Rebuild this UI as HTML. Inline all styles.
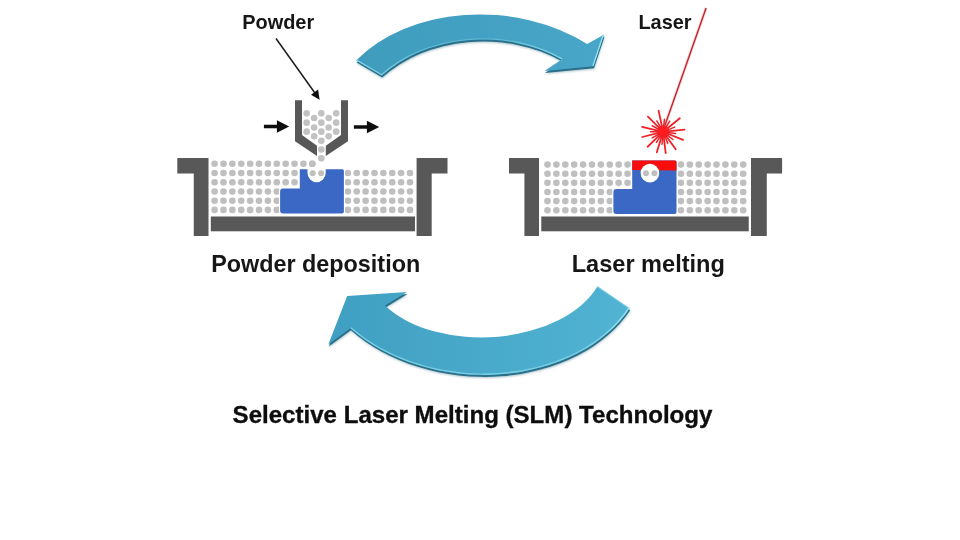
<!DOCTYPE html>
<html lang="en"><head><meta charset="utf-8"><title>Selective Laser Melting (SLM) Technology</title>
<style>
html,body{margin:0;padding:0;background:#fff;}
body{width:960px;height:540px;overflow:hidden;position:relative;font-family:"Liberation Sans",Arial,sans-serif;}
svg{position:absolute;left:0;top:0;display:block;}
text{font-family:"Liberation Sans",Arial,sans-serif;font-weight:700;fill:#111;}
.lbl text{fill:#161616;}
.g{fill:#585858;}
.d{fill:#bfbfbf;}
.b{fill:#3b67c4;}
</style></head><body>
<svg width="960" height="540" viewBox="0 0 960 540">
<defs>
<linearGradient id="ga" gradientUnits="userSpaceOnUse" x1="357" y1="0" x2="604" y2="0"><stop offset="0" stop-color="#3f9cbd"/><stop offset="1" stop-color="#48a6c9"/></linearGradient>
<linearGradient id="gb" gradientUnits="userSpaceOnUse" x1="328" y1="0" x2="630" y2="0"><stop offset="0" stop-color="#409fc2"/><stop offset="1" stop-color="#52b3d3"/></linearGradient>
<linearGradient id="hla" gradientUnits="userSpaceOnUse" x1="356" y1="0" x2="562" y2="0"><stop offset="0" stop-color="#8fe3f0" stop-opacity="0.95"/><stop offset="0.3" stop-color="#8fe3f0" stop-opacity="0.4"/><stop offset="0.65" stop-color="#8fe3f0" stop-opacity="0.3"/><stop offset="1" stop-color="#8fe3f0" stop-opacity="0.8"/></linearGradient>
<linearGradient id="hlb" gradientUnits="userSpaceOnUse" x1="630" y1="0" x2="483" y2="0"><stop offset="0" stop-color="#9beaf5" stop-opacity="0.9"/><stop offset="0.35" stop-color="#9beaf5" stop-opacity="0.5"/><stop offset="1" stop-color="#8fe3f0" stop-opacity="0.7"/></linearGradient>
<filter id="soft" x="-5%" y="-5%" width="110%" height="110%"><feGaussianBlur stdDeviation="0.6"/></filter>
<filter id="softd" x="-5%" y="-5%" width="110%" height="110%"><feGaussianBlur stdDeviation="0.65"/></filter>
<filter id="soft2" x="-5%" y="-10%" width="110%" height="120%"><feGaussianBlur stdDeviation="0.5"/></filter>
<filter id="soft3" x="-2%" y="-20%" width="104%" height="140%"><feGaussianBlur stdDeviation="0.4"/></filter>
<filter id="sh" x="-10%" y="-20%" width="120%" height="150%"><feGaussianBlur stdDeviation="1.1"/></filter>

<clipPath id="ca"><path d="M356.1 60.6 A159.9 117.6 4.27 0 1 587.2 43.9 L604.1 34.4 L593.5 66.2 L544.4 70.9 L561.7 59.4 A133.7 103.8 0.6 0 0 381.7 75.6 Z"/></clipPath>
<clipPath id="cb"><path d="M328.3 344.4 L347.2 296.1 L407 292 L385 305.6 A119.5 74.3 -2.24 0 0 597.5 286.2 L629.7 308.3 A169.1 125.5 3.4 0 1 350.4 328.3 Z"/></clipPath>
</defs>
<rect width="960" height="540" fill="#fff"/>
<g class="d" filter="url(#softd)">
<circle cx="214.6" cy="163.8" r="3.3"/>
<circle cx="214.6" cy="173.02" r="3.3"/>
<circle cx="214.6" cy="182.24" r="3.3"/>
<circle cx="214.6" cy="191.46" r="3.3"/>
<circle cx="214.6" cy="200.68" r="3.3"/>
<circle cx="214.6" cy="209.9" r="3.3"/>
<circle cx="223.48" cy="163.8" r="3.3"/>
<circle cx="223.48" cy="173.02" r="3.3"/>
<circle cx="223.48" cy="182.24" r="3.3"/>
<circle cx="223.48" cy="191.46" r="3.3"/>
<circle cx="223.48" cy="200.68" r="3.3"/>
<circle cx="223.48" cy="209.9" r="3.3"/>
<circle cx="232.36" cy="163.8" r="3.3"/>
<circle cx="232.36" cy="173.02" r="3.3"/>
<circle cx="232.36" cy="182.24" r="3.3"/>
<circle cx="232.36" cy="191.46" r="3.3"/>
<circle cx="232.36" cy="200.68" r="3.3"/>
<circle cx="232.36" cy="209.9" r="3.3"/>
<circle cx="241.25" cy="163.8" r="3.3"/>
<circle cx="241.25" cy="173.02" r="3.3"/>
<circle cx="241.25" cy="182.24" r="3.3"/>
<circle cx="241.25" cy="191.46" r="3.3"/>
<circle cx="241.25" cy="200.68" r="3.3"/>
<circle cx="241.25" cy="209.9" r="3.3"/>
<circle cx="250.13" cy="163.8" r="3.3"/>
<circle cx="250.13" cy="173.02" r="3.3"/>
<circle cx="250.13" cy="182.24" r="3.3"/>
<circle cx="250.13" cy="191.46" r="3.3"/>
<circle cx="250.13" cy="200.68" r="3.3"/>
<circle cx="250.13" cy="209.9" r="3.3"/>
<circle cx="259.01" cy="163.8" r="3.3"/>
<circle cx="259.01" cy="173.02" r="3.3"/>
<circle cx="259.01" cy="182.24" r="3.3"/>
<circle cx="259.01" cy="191.46" r="3.3"/>
<circle cx="259.01" cy="200.68" r="3.3"/>
<circle cx="259.01" cy="209.9" r="3.3"/>
<circle cx="267.89" cy="163.8" r="3.3"/>
<circle cx="267.89" cy="173.02" r="3.3"/>
<circle cx="267.89" cy="182.24" r="3.3"/>
<circle cx="267.89" cy="191.46" r="3.3"/>
<circle cx="267.89" cy="200.68" r="3.3"/>
<circle cx="267.89" cy="209.9" r="3.3"/>
<circle cx="276.77" cy="163.8" r="3.3"/>
<circle cx="276.77" cy="173.02" r="3.3"/>
<circle cx="276.77" cy="182.24" r="3.3"/>
<circle cx="276.77" cy="191.46" r="3.3"/>
<circle cx="276.77" cy="200.68" r="3.3"/>
<circle cx="276.77" cy="209.9" r="3.3"/>
<circle cx="285.66" cy="163.8" r="3.3"/>
<circle cx="285.66" cy="173.02" r="3.3"/>
<circle cx="285.66" cy="182.24" r="3.3"/>
<circle cx="285.66" cy="191.46" r="3.3"/>
<circle cx="285.66" cy="200.68" r="3.3"/>
<circle cx="285.66" cy="209.9" r="3.3"/>
<circle cx="294.54" cy="163.8" r="3.3"/>
<circle cx="294.54" cy="173.02" r="3.3"/>
<circle cx="294.54" cy="182.24" r="3.3"/>
<circle cx="294.54" cy="191.46" r="3.3"/>
<circle cx="294.54" cy="200.68" r="3.3"/>
<circle cx="294.54" cy="209.9" r="3.3"/>
<circle cx="303.42" cy="163.8" r="3.3"/>
<circle cx="303.42" cy="173.02" r="3.3"/>
<circle cx="303.42" cy="182.24" r="3.3"/>
<circle cx="303.42" cy="191.46" r="3.3"/>
<circle cx="303.42" cy="200.68" r="3.3"/>
<circle cx="303.42" cy="209.9" r="3.3"/>
<circle cx="312.3" cy="163.8" r="3.3"/>
<circle cx="312.3" cy="173.02" r="3.3"/>
<circle cx="312.3" cy="182.24" r="3.3"/>
<circle cx="312.3" cy="191.46" r="3.3"/>
<circle cx="312.3" cy="200.68" r="3.3"/>
<circle cx="312.3" cy="209.9" r="3.3"/>
<circle cx="321.18" cy="173.02" r="3.3"/>
<circle cx="321.18" cy="182.24" r="3.3"/>
<circle cx="321.18" cy="191.46" r="3.3"/>
<circle cx="321.18" cy="200.68" r="3.3"/>
<circle cx="321.18" cy="209.9" r="3.3"/>
<circle cx="330.07" cy="173.02" r="3.3"/>
<circle cx="330.07" cy="182.24" r="3.3"/>
<circle cx="330.07" cy="191.46" r="3.3"/>
<circle cx="330.07" cy="200.68" r="3.3"/>
<circle cx="330.07" cy="209.9" r="3.3"/>
<circle cx="338.95" cy="173.02" r="3.3"/>
<circle cx="338.95" cy="182.24" r="3.3"/>
<circle cx="338.95" cy="191.46" r="3.3"/>
<circle cx="338.95" cy="200.68" r="3.3"/>
<circle cx="338.95" cy="209.9" r="3.3"/>
<circle cx="347.83" cy="173.02" r="3.3"/>
<circle cx="347.83" cy="182.24" r="3.3"/>
<circle cx="347.83" cy="191.46" r="3.3"/>
<circle cx="347.83" cy="200.68" r="3.3"/>
<circle cx="347.83" cy="209.9" r="3.3"/>
<circle cx="356.71" cy="173.02" r="3.3"/>
<circle cx="356.71" cy="182.24" r="3.3"/>
<circle cx="356.71" cy="191.46" r="3.3"/>
<circle cx="356.71" cy="200.68" r="3.3"/>
<circle cx="356.71" cy="209.9" r="3.3"/>
<circle cx="365.59" cy="173.02" r="3.3"/>
<circle cx="365.59" cy="182.24" r="3.3"/>
<circle cx="365.59" cy="191.46" r="3.3"/>
<circle cx="365.59" cy="200.68" r="3.3"/>
<circle cx="365.59" cy="209.9" r="3.3"/>
<circle cx="374.48" cy="173.02" r="3.3"/>
<circle cx="374.48" cy="182.24" r="3.3"/>
<circle cx="374.48" cy="191.46" r="3.3"/>
<circle cx="374.48" cy="200.68" r="3.3"/>
<circle cx="374.48" cy="209.9" r="3.3"/>
<circle cx="383.36" cy="173.02" r="3.3"/>
<circle cx="383.36" cy="182.24" r="3.3"/>
<circle cx="383.36" cy="191.46" r="3.3"/>
<circle cx="383.36" cy="200.68" r="3.3"/>
<circle cx="383.36" cy="209.9" r="3.3"/>
<circle cx="392.24" cy="173.02" r="3.3"/>
<circle cx="392.24" cy="182.24" r="3.3"/>
<circle cx="392.24" cy="191.46" r="3.3"/>
<circle cx="392.24" cy="200.68" r="3.3"/>
<circle cx="392.24" cy="209.9" r="3.3"/>
<circle cx="401.12" cy="173.02" r="3.3"/>
<circle cx="401.12" cy="182.24" r="3.3"/>
<circle cx="401.12" cy="191.46" r="3.3"/>
<circle cx="401.12" cy="200.68" r="3.3"/>
<circle cx="401.12" cy="209.9" r="3.3"/>
<circle cx="410" cy="173.02" r="3.3"/>
<circle cx="410" cy="182.24" r="3.3"/>
<circle cx="410" cy="191.46" r="3.3"/>
<circle cx="410" cy="200.68" r="3.3"/>
<circle cx="410" cy="209.9" r="3.3"/>
</g>
<g filter="url(#soft)">
<path class="g" d="M177.3 158.1H208.5V236H193.75V173.6H177.3z"/>
<path class="g" d="M416.6 158.1H447.5V173.6H431.7V236H416.6z"/>
<rect class="g" x="210.8" y="216.5" width="204.2" height="14.8"/>
<path fill="#fff" stroke="#fff" stroke-width="2.2" stroke-linejoin="round" d="M283.1 188.6 H299.8 V169.2 H342.4 q1.5 0 1.5 1.5 V211.6 q0 2 -2 2 H283.1 q-3 0 -3 -3 V191.6 q0 -3 3 -3z"/>
<path class="b" d="M283.1 188.6 H299.8 V169.2 H342.4 q1.5 0 1.5 1.5 V211.6 q0 2 -2 2 H283.1 q-3 0 -3 -3 V191.6 q0 -3 3 -3z"/>
<path fill="#fff" d="M307.5 167.8 h18.2 v5.3 a9.1 9.1 0 0 1 -18.2 0z"/>
</g>
<g class="d" filter="url(#softd)">
<circle cx="312.3" cy="163.8" r="3.3"/>
<circle cx="312.7" cy="173.3" r="3"/>
<circle cx="321.1" cy="173.3" r="3"/>
</g>
<g class="d" filter="url(#softd)">
<circle cx="547.5" cy="164.6" r="3.3"/>
<circle cx="547.5" cy="173.72" r="3.3"/>
<circle cx="547.5" cy="182.84" r="3.3"/>
<circle cx="547.5" cy="191.96" r="3.3"/>
<circle cx="547.5" cy="201.08" r="3.3"/>
<circle cx="547.5" cy="210.2" r="3.3"/>
<circle cx="556.39" cy="164.6" r="3.3"/>
<circle cx="556.39" cy="173.72" r="3.3"/>
<circle cx="556.39" cy="182.84" r="3.3"/>
<circle cx="556.39" cy="191.96" r="3.3"/>
<circle cx="556.39" cy="201.08" r="3.3"/>
<circle cx="556.39" cy="210.2" r="3.3"/>
<circle cx="565.29" cy="164.6" r="3.3"/>
<circle cx="565.29" cy="173.72" r="3.3"/>
<circle cx="565.29" cy="182.84" r="3.3"/>
<circle cx="565.29" cy="191.96" r="3.3"/>
<circle cx="565.29" cy="201.08" r="3.3"/>
<circle cx="565.29" cy="210.2" r="3.3"/>
<circle cx="574.18" cy="164.6" r="3.3"/>
<circle cx="574.18" cy="173.72" r="3.3"/>
<circle cx="574.18" cy="182.84" r="3.3"/>
<circle cx="574.18" cy="191.96" r="3.3"/>
<circle cx="574.18" cy="201.08" r="3.3"/>
<circle cx="574.18" cy="210.2" r="3.3"/>
<circle cx="583.08" cy="164.6" r="3.3"/>
<circle cx="583.08" cy="173.72" r="3.3"/>
<circle cx="583.08" cy="182.84" r="3.3"/>
<circle cx="583.08" cy="191.96" r="3.3"/>
<circle cx="583.08" cy="201.08" r="3.3"/>
<circle cx="583.08" cy="210.2" r="3.3"/>
<circle cx="591.98" cy="164.6" r="3.3"/>
<circle cx="591.98" cy="173.72" r="3.3"/>
<circle cx="591.98" cy="182.84" r="3.3"/>
<circle cx="591.98" cy="191.96" r="3.3"/>
<circle cx="591.98" cy="201.08" r="3.3"/>
<circle cx="591.98" cy="210.2" r="3.3"/>
<circle cx="600.87" cy="164.6" r="3.3"/>
<circle cx="600.87" cy="173.72" r="3.3"/>
<circle cx="600.87" cy="182.84" r="3.3"/>
<circle cx="600.87" cy="191.96" r="3.3"/>
<circle cx="600.87" cy="201.08" r="3.3"/>
<circle cx="600.87" cy="210.2" r="3.3"/>
<circle cx="609.76" cy="164.6" r="3.3"/>
<circle cx="609.76" cy="173.72" r="3.3"/>
<circle cx="609.76" cy="182.84" r="3.3"/>
<circle cx="609.76" cy="191.96" r="3.3"/>
<circle cx="609.76" cy="201.08" r="3.3"/>
<circle cx="609.76" cy="210.2" r="3.3"/>
<circle cx="618.66" cy="164.6" r="3.3"/>
<circle cx="618.66" cy="173.72" r="3.3"/>
<circle cx="618.66" cy="182.84" r="3.3"/>
<circle cx="618.66" cy="191.96" r="3.3"/>
<circle cx="618.66" cy="201.08" r="3.3"/>
<circle cx="618.66" cy="210.2" r="3.3"/>
<circle cx="627.55" cy="164.6" r="3.3"/>
<circle cx="627.55" cy="173.72" r="3.3"/>
<circle cx="627.55" cy="182.84" r="3.3"/>
<circle cx="627.55" cy="191.96" r="3.3"/>
<circle cx="627.55" cy="201.08" r="3.3"/>
<circle cx="627.55" cy="210.2" r="3.3"/>
<circle cx="636.45" cy="164.6" r="3.3"/>
<circle cx="636.45" cy="173.72" r="3.3"/>
<circle cx="636.45" cy="182.84" r="3.3"/>
<circle cx="636.45" cy="191.96" r="3.3"/>
<circle cx="636.45" cy="201.08" r="3.3"/>
<circle cx="636.45" cy="210.2" r="3.3"/>
<circle cx="645.35" cy="164.6" r="3.3"/>
<circle cx="645.35" cy="173.72" r="3.3"/>
<circle cx="645.35" cy="182.84" r="3.3"/>
<circle cx="645.35" cy="191.96" r="3.3"/>
<circle cx="645.35" cy="201.08" r="3.3"/>
<circle cx="645.35" cy="210.2" r="3.3"/>
<circle cx="654.24" cy="164.6" r="3.3"/>
<circle cx="654.24" cy="173.72" r="3.3"/>
<circle cx="654.24" cy="182.84" r="3.3"/>
<circle cx="654.24" cy="191.96" r="3.3"/>
<circle cx="654.24" cy="201.08" r="3.3"/>
<circle cx="654.24" cy="210.2" r="3.3"/>
<circle cx="663.13" cy="164.6" r="3.3"/>
<circle cx="663.13" cy="173.72" r="3.3"/>
<circle cx="663.13" cy="182.84" r="3.3"/>
<circle cx="663.13" cy="191.96" r="3.3"/>
<circle cx="663.13" cy="201.08" r="3.3"/>
<circle cx="663.13" cy="210.2" r="3.3"/>
<circle cx="672.03" cy="164.6" r="3.3"/>
<circle cx="672.03" cy="173.72" r="3.3"/>
<circle cx="672.03" cy="182.84" r="3.3"/>
<circle cx="672.03" cy="191.96" r="3.3"/>
<circle cx="672.03" cy="201.08" r="3.3"/>
<circle cx="672.03" cy="210.2" r="3.3"/>
<circle cx="680.92" cy="164.6" r="3.3"/>
<circle cx="680.92" cy="173.72" r="3.3"/>
<circle cx="680.92" cy="182.84" r="3.3"/>
<circle cx="680.92" cy="191.96" r="3.3"/>
<circle cx="680.92" cy="201.08" r="3.3"/>
<circle cx="680.92" cy="210.2" r="3.3"/>
<circle cx="689.82" cy="164.6" r="3.3"/>
<circle cx="689.82" cy="173.72" r="3.3"/>
<circle cx="689.82" cy="182.84" r="3.3"/>
<circle cx="689.82" cy="191.96" r="3.3"/>
<circle cx="689.82" cy="201.08" r="3.3"/>
<circle cx="689.82" cy="210.2" r="3.3"/>
<circle cx="698.72" cy="164.6" r="3.3"/>
<circle cx="698.72" cy="173.72" r="3.3"/>
<circle cx="698.72" cy="182.84" r="3.3"/>
<circle cx="698.72" cy="191.96" r="3.3"/>
<circle cx="698.72" cy="201.08" r="3.3"/>
<circle cx="698.72" cy="210.2" r="3.3"/>
<circle cx="707.61" cy="164.6" r="3.3"/>
<circle cx="707.61" cy="173.72" r="3.3"/>
<circle cx="707.61" cy="182.84" r="3.3"/>
<circle cx="707.61" cy="191.96" r="3.3"/>
<circle cx="707.61" cy="201.08" r="3.3"/>
<circle cx="707.61" cy="210.2" r="3.3"/>
<circle cx="716.5" cy="164.6" r="3.3"/>
<circle cx="716.5" cy="173.72" r="3.3"/>
<circle cx="716.5" cy="182.84" r="3.3"/>
<circle cx="716.5" cy="191.96" r="3.3"/>
<circle cx="716.5" cy="201.08" r="3.3"/>
<circle cx="716.5" cy="210.2" r="3.3"/>
<circle cx="725.4" cy="164.6" r="3.3"/>
<circle cx="725.4" cy="173.72" r="3.3"/>
<circle cx="725.4" cy="182.84" r="3.3"/>
<circle cx="725.4" cy="191.96" r="3.3"/>
<circle cx="725.4" cy="201.08" r="3.3"/>
<circle cx="725.4" cy="210.2" r="3.3"/>
<circle cx="734.29" cy="164.6" r="3.3"/>
<circle cx="734.29" cy="173.72" r="3.3"/>
<circle cx="734.29" cy="182.84" r="3.3"/>
<circle cx="734.29" cy="191.96" r="3.3"/>
<circle cx="734.29" cy="201.08" r="3.3"/>
<circle cx="734.29" cy="210.2" r="3.3"/>
<circle cx="743.19" cy="164.6" r="3.3"/>
<circle cx="743.19" cy="173.72" r="3.3"/>
<circle cx="743.19" cy="182.84" r="3.3"/>
<circle cx="743.19" cy="191.96" r="3.3"/>
<circle cx="743.19" cy="201.08" r="3.3"/>
<circle cx="743.19" cy="210.2" r="3.3"/>
</g>
<g filter="url(#soft)">
<path class="g" d="M509 158.1H539V236H524.4V173.6H509z"/>
<path class="g" d="M751 158.1H782.1V173.6H766.8V236H751z"/>
<rect class="g" x="541.25" y="216.5" width="207.5" height="14.8"/>
<path fill="#fff" stroke="#fff" stroke-width="2.2" stroke-linejoin="round" d="M616.4 188.9 H632.2 V160.4 H675 q1.5 0 1.5 1.5 V212 q0 2 -2 2 H616.4 q-3 0 -3 -3 V191.9 q0 -3 3 -3z"/>
<path class="b" d="M616.4 188.9 H632.2 V160.4 H675 q1.5 0 1.5 1.5 V212 q0 2 -2 2 H616.4 q-3 0 -3 -3 V191.9 q0 -3 3 -3z"/>
<path fill="#f80f0f" d="M632.2 170 V160.4 H675 q1.5 0 1.5 1.5 V170.6 z"/>
<circle cx="649.9" cy="173.1" r="9.3" fill="#fff"/>
</g>
<g class="d" filter="url(#softd)">
<circle cx="646" cy="173.3" r="3"/>
<circle cx="654.4" cy="173.3" r="3"/>
</g>
<g filter="url(#soft)">
<path class="g" d="M295 100.3h7v34.7l15 10.8v10.3l-22-14.8z"/>
<path class="g" d="M348 100.3h-7v34.7l-15.2 10.8v10.3l22.2-14.8z"/>
</g>
<g fill="#c2c2c2" filter="url(#softd)">
<circle cx="306.67" cy="113.33" r="3.3"/>
<circle cx="321.33" cy="113.33" r="3.3"/>
<circle cx="336.17" cy="113.33" r="3.3"/>
<circle cx="314.17" cy="118" r="3.3"/>
<circle cx="328.67" cy="118" r="3.3"/>
<circle cx="306.67" cy="122.67" r="3.3"/>
<circle cx="321.33" cy="122.67" r="3.3"/>
<circle cx="336.17" cy="122.67" r="3.3"/>
<circle cx="314.17" cy="127.5" r="3.3"/>
<circle cx="328.67" cy="127.5" r="3.3"/>
<circle cx="306.67" cy="131.67" r="3.3"/>
<circle cx="321.33" cy="131.67" r="3.3"/>
<circle cx="336.17" cy="131.67" r="3.3"/>
<circle cx="314.17" cy="136.33" r="3.3"/>
<circle cx="328.67" cy="136.33" r="3.3"/>
<circle cx="321.33" cy="140.83" r="3.3"/>
<circle cx="321.33" cy="149.5" r="3.3"/>
<circle cx="321.33" cy="158.33" r="3.3"/>
</g>
<g filter="url(#soft)">
<path fill="#111" d="M263.9 124.65h13v-4.5l12.3 6.25-12.3 6.25v-4.5h-13z"/>
<path fill="#111" d="M353.9 125.25h13v-4.5l12.3 6.25-12.3 6.25v-4.5h-13z"/>
<path d="M276 38.5L316 94.5" stroke="#1c1c1c" stroke-width="1.5" fill="none"/>
<path fill="#111" d="M319.6 99.8L311 94.8L318.1 89.5z"/>
</g>
<g filter="url(#soft)">
<path d="M706.1 8L663.3 130" stroke="#ff8f8f" stroke-opacity="0.5" stroke-width="2.8" fill="none"/>
<path d="M706.1 8L663.3 130" stroke="#b4222e" stroke-width="1.25" fill="none"/>
<circle cx="663.1" cy="131.8" r="6.4" fill="#ff1a1a"/>
<g stroke="#ee2228" stroke-linecap="round" fill="none">
<path stroke-width="1.8" d="M658.72 130.79L642.15 126.96"/>
<path stroke-width="1.8" d="M659.92 128.62L647.9 116.6"/>
<path stroke-width="1.8" d="M662.16 127.4L658.63 110.77"/>
<path stroke-width="1.8" d="M666.6 128.97L679.81 118.27"/>
<path stroke-width="1.8" d="M667.58 131.33L684.48 129.55"/>
<path stroke-width="1.8" d="M667.27 133.49L683.03 139.85"/>
<path stroke-width="1.8" d="M665.75 135.44L675.74 149.19"/>
<path stroke-width="1.8" d="M663.65 136.27L665.72 153.14"/>
<path stroke-width="1.8" d="M661.78 136.1L656.81 152.36"/>
<path stroke-width="1.8" d="M659.86 134.93L647.63 146.74"/>
<path stroke-width="1.8" d="M658.73 132.89L642.24 137"/>
<path stroke-width="1.5" d="M660.85 127.9L656.85 120.97"/>
<path stroke-width="1.5" d="M663.57 127.32L664.41 119.37"/>
<path stroke-width="1.5" d="M665.48 127.98L669.72 121.2"/>
<path stroke-width="1.5" d="M667.27 130.11L674.69 127.12"/>
<path stroke-width="1.5" d="M667.56 132.43L675.48 133.54"/>
<path stroke-width="1.5" d="M666.65 134.57L672.95 139.5"/>
<path stroke-width="1.5" d="M664.79 135.97L667.78 143.39"/>
<path stroke-width="1.5" d="M662.71 136.28L662.01 144.25"/>
<path stroke-width="1.5" d="M660.72 135.62L656.48 142.4"/>
<path stroke-width="1.5" d="M659.16 133.98L652.17 137.86"/>
<path stroke-width="1.5" d="M658.6 131.8L650.6 131.8"/>
<path stroke-width="1.5" d="M659.16 129.62L652.17 125.74"/>
</g></g>
<g>
<path d="M356.1 60.6 A159.9 117.6 4.27 0 1 587.2 43.9 L604.1 34.4 L593.5 66.2 L544.4 70.9 L561.7 59.4 A133.7 103.8 0.6 0 0 381.7 75.6 Z" fill="#1d5970" opacity="0.35" transform="translate(0.8,3)" filter="url(#sh)"/>
<path d="M356.1 60.6 A159.9 117.6 4.27 0 1 587.2 43.9 L604.1 34.4 L593.5 66.2 L544.4 70.9 L561.7 59.4 A133.7 103.8 0.6 0 0 381.7 75.6 Z" fill="#2a6f8a" transform="translate(0.5,2)" filter="url(#soft)"/>
<g filter="url(#soft2)">
<path d="M356.1 60.6 A159.9 117.6 4.27 0 1 587.2 43.9 L604.1 34.4 L593.5 66.2 L544.4 70.9 L561.7 59.4 A133.7 103.8 0.6 0 0 381.7 75.6 Z" fill="url(#ga)"/>
<g clip-path="url(#ca)" fill="none" stroke="#8fe3f0" stroke-width="2.6" stroke-linejoin="round">
<path d="M561.7 59.4 A133.7 103.8 0.6 0 0 381.7 75.6 L356.1 60.6" stroke="url(#hla)"/>
<path d="M604.1 34.4 L593.5 66.2" stroke-width="2.6"/>
</g></g>
<path d="M328.3 344.4 L347.2 296.1 L407 292 L385 305.6 A119.5 74.3 -2.24 0 0 597.5 286.2 L629.7 308.3 A169.1 125.5 3.4 0 1 350.4 328.3 Z" fill="#1d5970" opacity="0.35" transform="translate(0.8,3)" filter="url(#sh)"/>
<path d="M328.3 344.4 L347.2 296.1 L407 292 L385 305.6 A119.5 74.3 -2.24 0 0 597.5 286.2 L629.7 308.3 A169.1 125.5 3.4 0 1 350.4 328.3 Z" fill="#2a6f8a" transform="translate(0.5,2)" filter="url(#soft)"/>
<g filter="url(#soft2)">
<path d="M328.3 344.4 L347.2 296.1 L407 292 L385 305.6 A119.5 74.3 -2.24 0 0 597.5 286.2 L629.7 308.3 A169.1 125.5 3.4 0 1 350.4 328.3 Z" fill="url(#gb)"/>
<g clip-path="url(#cb)" fill="none" stroke="#8fe3f0" stroke-width="2.6" stroke-linejoin="round">
<path d="M483 375 A169.1 125.5 3.4 0 1 350.4 328.3" opacity="0.7"/>
<path d="M597.5 286.2 L629.7 308.3" stroke-width="2" opacity="0.6"/>
<path d="M629.7 308.3 A169.1 125.5 3.4 0 1 483 375" stroke="url(#hlb)" stroke-width="3.2"/>
</g></g>
</g>
<g class="lbl" filter="url(#soft)">
<text x="242.2" y="29.2" font-size="19.7" textLength="72" lengthAdjust="spacingAndGlyphs">Powder</text>
<text x="638.4" y="29.3" font-size="19.7" textLength="53.2" lengthAdjust="spacingAndGlyphs">Laser</text>
<text x="211.2" y="271.9" font-size="23.2" textLength="209" lengthAdjust="spacingAndGlyphs">Powder deposition</text>
<text x="571.7" y="271.8" font-size="23.2" textLength="153.2" lengthAdjust="spacingAndGlyphs">Laser melting</text>
</g>
<text x="232.6" y="422.9" font-size="23.6" textLength="479.8" lengthAdjust="spacingAndGlyphs" fill="#000" stroke="#000" stroke-width="0.3" filter="url(#soft3)">Selective Laser Melting (SLM) Technology</text>
</svg>
</body></html>
